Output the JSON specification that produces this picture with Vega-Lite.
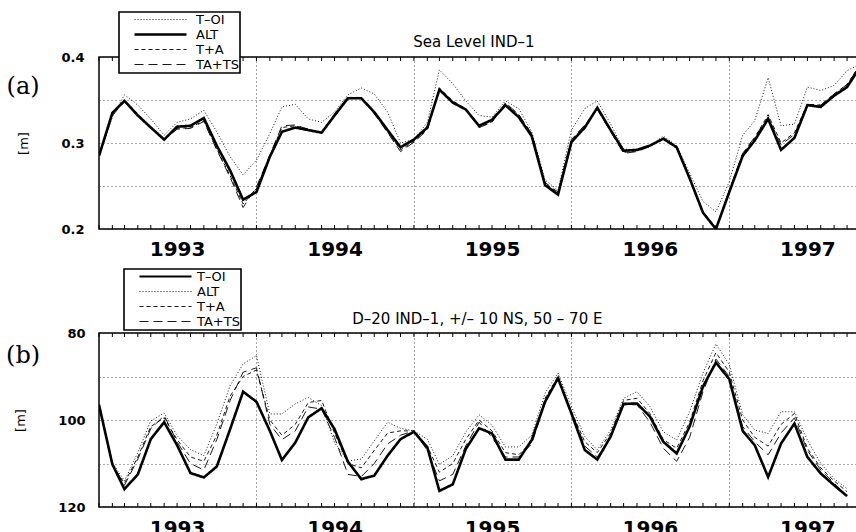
{
"$schema": "https://vega.github.io/schema/vega-lite/v6.json",
"padding": {"left": 5, "top": 10, "right": 0, "bottom": 0},
"background": "white",
"spacing": 7,
"config": {
  "font": "DejaVu Sans",
  "view": {"stroke": "black", "strokeWidth": 1.5},
  "axis": {"domain": false, "ticks": false, "grid": false, "labelColor": "black", "titleColor": "black"}
},
"datasets": {
"a": [
{"d":"1993-01-01","toi":0.285,"alt":0.285,"ta":0.285,"tats":0.285},
{"d":"1993-02-01","toi":0.330,"alt":0.335,"ta":0.333,"tats":0.332},
{"d":"1993-03-01","toi":0.356,"alt":0.349,"ta":0.350,"tats":0.348},
{"d":"1993-04-01","toi":0.344,"alt":0.332,"ta":0.334,"tats":0.333},
{"d":"1993-05-01","toi":0.328,"alt":0.318,"ta":0.319,"tats":0.318},
{"d":"1993-06-01","toi":0.309,"alt":0.304,"ta":0.305,"tats":0.304},
{"d":"1993-07-01","toi":0.324,"alt":0.319,"ta":0.317,"tats":0.316},
{"d":"1993-08-01","toi":0.328,"alt":0.320,"ta":0.318,"tats":0.317},
{"d":"1993-09-01","toi":0.338,"alt":0.329,"ta":0.326,"tats":0.325},
{"d":"1993-10-01","toi":0.313,"alt":0.297,"ta":0.293,"tats":0.292},
{"d":"1993-11-01","toi":0.284,"alt":0.268,"ta":0.262,"tats":0.260},
{"d":"1993-12-01","toi":0.263,"alt":0.234,"ta":0.229,"tats":0.225},
{"d":"1994-01-01","toi":0.280,"alt":0.243,"ta":0.247,"tats":0.249},
{"d":"1994-02-01","toi":0.311,"alt":0.284,"ta":0.285,"tats":0.286},
{"d":"1994-03-01","toi":0.342,"alt":0.313,"ta":0.318,"tats":0.320},
{"d":"1994-04-01","toi":0.345,"alt":0.318,"ta":0.320,"tats":0.321},
{"d":"1994-05-01","toi":0.328,"alt":0.315,"ta":0.316,"tats":0.316},
{"d":"1994-06-01","toi":0.324,"alt":0.312,"ta":0.312,"tats":0.312},
{"d":"1994-07-01","toi":0.336,"alt":0.332,"ta":0.333,"tats":0.334},
{"d":"1994-08-01","toi":0.356,"alt":0.352,"ta":0.353,"tats":0.353},
{"d":"1994-09-01","toi":0.364,"alt":0.352,"ta":0.353,"tats":0.352},
{"d":"1994-10-01","toi":0.357,"alt":0.336,"ta":0.335,"tats":0.334},
{"d":"1994-11-01","toi":0.336,"alt":0.315,"ta":0.313,"tats":0.312},
{"d":"1994-12-01","toi":0.300,"alt":0.295,"ta":0.292,"tats":0.290},
{"d":"1995-01-01","toi":0.304,"alt":0.304,"ta":0.302,"tats":0.301},
{"d":"1995-02-01","toi":0.324,"alt":0.318,"ta":0.316,"tats":0.315},
{"d":"1995-03-01","toi":0.385,"alt":0.362,"ta":0.364,"tats":0.363},
{"d":"1995-04-01","toi":0.369,"alt":0.347,"ta":0.349,"tats":0.348},
{"d":"1995-05-01","toi":0.349,"alt":0.339,"ta":0.340,"tats":0.339},
{"d":"1995-06-01","toi":0.332,"alt":0.320,"ta":0.318,"tats":0.318},
{"d":"1995-07-01","toi":0.330,"alt":0.327,"ta":0.325,"tats":0.324},
{"d":"1995-08-01","toi":0.349,"alt":0.344,"ta":0.346,"tats":0.347},
{"d":"1995-09-01","toi":0.340,"alt":0.330,"ta":0.333,"tats":0.333},
{"d":"1995-10-01","toi":0.313,"alt":0.308,"ta":0.310,"tats":0.311},
{"d":"1995-11-01","toi":0.257,"alt":0.251,"ta":0.253,"tats":0.254},
{"d":"1995-12-01","toi":0.245,"alt":0.240,"ta":0.242,"tats":0.243},
{"d":"1996-01-01","toi":0.315,"alt":0.301,"ta":0.303,"tats":0.304},
{"d":"1996-02-01","toi":0.340,"alt":0.318,"ta":0.320,"tats":0.321},
{"d":"1996-03-01","toi":0.349,"alt":0.341,"ta":0.340,"tats":0.339},
{"d":"1996-04-01","toi":0.322,"alt":0.315,"ta":0.314,"tats":0.313},
{"d":"1996-05-01","toi":0.293,"alt":0.291,"ta":0.289,"tats":0.288},
{"d":"1996-06-01","toi":0.292,"alt":0.292,"ta":0.291,"tats":0.290},
{"d":"1996-07-01","toi":0.297,"alt":0.297,"ta":0.296,"tats":0.296},
{"d":"1996-08-01","toi":0.308,"alt":0.305,"ta":0.306,"tats":0.306},
{"d":"1996-09-01","toi":0.297,"alt":0.295,"ta":0.296,"tats":0.296},
{"d":"1996-10-01","toi":0.265,"alt":0.259,"ta":0.260,"tats":0.260},
{"d":"1996-11-01","toi":0.232,"alt":0.219,"ta":0.220,"tats":0.220},
{"d":"1996-12-01","toi":0.220,"alt":0.200,"ta":0.201,"tats":0.200},
{"d":"1997-01-01","toi":0.255,"alt":0.243,"ta":0.245,"tats":0.245},
{"d":"1997-02-01","toi":0.309,"alt":0.285,"ta":0.287,"tats":0.288},
{"d":"1997-03-01","toi":0.326,"alt":0.303,"ta":0.306,"tats":0.307},
{"d":"1997-04-01","toi":0.376,"alt":0.328,"ta":0.333,"tats":0.330},
{"d":"1997-05-01","toi":0.320,"alt":0.292,"ta":0.300,"tats":0.298},
{"d":"1997-06-01","toi":0.322,"alt":0.306,"ta":0.312,"tats":0.310},
{"d":"1997-07-01","toi":0.365,"alt":0.344,"ta":0.345,"tats":0.345},
{"d":"1997-08-01","toi":0.361,"alt":0.342,"ta":0.344,"tats":0.344},
{"d":"1997-09-01","toi":0.367,"alt":0.355,"ta":0.357,"tats":0.357},
{"d":"1997-10-01","toi":0.384,"alt":0.365,"ta":0.368,"tats":0.368},
{"d":"1997-11-01","toi":0.392,"alt":0.389,"ta":0.392,"tats":0.391}
],
"b": [
{"d":"1993-01-01","toi":96.5,"alt":96.5,"ta":96.5,"tats":96.5},
{"d":"1993-02-01","toi":110.2,"alt":109.8,"ta":110.5,"tats":110.0},
{"d":"1993-03-01","toi":115.9,"alt":114.0,"ta":114.5,"tats":115.0},
{"d":"1993-04-01","toi":112.5,"alt":107.5,"ta":108.5,"tats":109.0},
{"d":"1993-05-01","toi":104.4,"alt":100.2,"ta":101.5,"tats":102.0},
{"d":"1993-06-01","toi":100.5,"alt":98.4,"ta":99.5,"tats":99.0},
{"d":"1993-07-01","toi":105.8,"alt":103.6,"ta":104.5,"tats":105.0},
{"d":"1993-08-01","toi":112.2,"alt":106.8,"ta":108.5,"tats":110.0},
{"d":"1993-09-01","toi":113.2,"alt":108.2,"ta":109.5,"tats":111.5},
{"d":"1993-10-01","toi":110.7,"alt":100.9,"ta":103.5,"tats":104.5},
{"d":"1993-11-01","toi":102.1,"alt":92.1,"ta":94.5,"tats":95.5},
{"d":"1993-12-01","toi":93.5,"alt":87.1,"ta":90.0,"tats":89.0},
{"d":"1994-01-01","toi":95.8,"alt":85.2,"ta":88.5,"tats":88.0},
{"d":"1994-02-01","toi":102.5,"alt":98.6,"ta":100.0,"tats":101.0},
{"d":"1994-03-01","toi":109.2,"alt":98.6,"ta":103.5,"tats":104.5},
{"d":"1994-04-01","toi":105.2,"alt":96.3,"ta":101.0,"tats":102.5},
{"d":"1994-05-01","toi":99.4,"alt":94.8,"ta":96.0,"tats":97.0},
{"d":"1994-06-01","toi":97.3,"alt":96.7,"ta":95.5,"tats":97.5},
{"d":"1994-07-01","toi":102.1,"alt":105.2,"ta":103.0,"tats":104.0},
{"d":"1994-08-01","toi":109.6,"alt":109.4,"ta":110.0,"tats":112.5},
{"d":"1994-09-01","toi":113.6,"alt":109.0,"ta":111.0,"tats":113.0},
{"d":"1994-10-01","toi":112.8,"alt":104.8,"ta":107.0,"tats":110.0},
{"d":"1994-11-01","toi":108.2,"alt":100.5,"ta":103.0,"tats":105.5},
{"d":"1994-12-01","toi":104.4,"alt":101.9,"ta":102.5,"tats":103.5},
{"d":"1995-01-01","toi":102.7,"alt":102.5,"ta":102.5,"tats":102.5},
{"d":"1995-02-01","toi":106.3,"alt":104.4,"ta":106.0,"tats":107.0},
{"d":"1995-03-01","toi":116.3,"alt":110.2,"ta":112.0,"tats":114.0},
{"d":"1995-04-01","toi":114.8,"alt":108.2,"ta":110.0,"tats":112.5},
{"d":"1995-05-01","toi":106.7,"alt":102.8,"ta":104.5,"tats":106.0},
{"d":"1995-06-01","toi":101.9,"alt":98.8,"ta":100.0,"tats":100.5},
{"d":"1995-07-01","toi":103.1,"alt":101.2,"ta":102.5,"tats":104.0},
{"d":"1995-08-01","toi":109.1,"alt":106.2,"ta":107.5,"tats":108.5},
{"d":"1995-09-01","toi":109.1,"alt":106.2,"ta":108.0,"tats":108.5},
{"d":"1995-10-01","toi":104.6,"alt":103.5,"ta":105.0,"tats":105.5},
{"d":"1995-11-01","toi":95.8,"alt":93.8,"ta":95.0,"tats":96.0},
{"d":"1995-12-01","toi":90.4,"alt":89.2,"ta":90.0,"tats":90.5},
{"d":"1996-01-01","toi":98.5,"alt":96.9,"ta":98.0,"tats":98.0},
{"d":"1996-02-01","toi":106.9,"alt":103.8,"ta":105.0,"tats":106.0},
{"d":"1996-03-01","toi":109.1,"alt":106.9,"ta":107.5,"tats":108.5},
{"d":"1996-04-01","toi":103.8,"alt":102.3,"ta":103.0,"tats":104.0},
{"d":"1996-05-01","toi":96.3,"alt":95.0,"ta":95.5,"tats":96.5},
{"d":"1996-06-01","toi":96.2,"alt":93.5,"ta":95.0,"tats":96.5},
{"d":"1996-07-01","toi":99.2,"alt":96.9,"ta":98.5,"tats":100.5},
{"d":"1996-08-01","toi":105.0,"alt":102.7,"ta":104.5,"tats":106.5},
{"d":"1996-09-01","toi":107.7,"alt":104.6,"ta":106.5,"tats":109.5},
{"d":"1996-10-01","toi":101.5,"alt":98.1,"ta":100.5,"tats":104.0},
{"d":"1996-11-01","toi":92.3,"alt":89.2,"ta":91.0,"tats":93.5},
{"d":"1996-12-01","toi":86.8,"alt":82.5,"ta":84.5,"tats":86.0},
{"d":"1997-01-01","toi":90.6,"alt":87.3,"ta":89.0,"tats":90.0},
{"d":"1997-02-01","toi":102.5,"alt":98.8,"ta":100.0,"tats":101.5},
{"d":"1997-03-01","toi":105.8,"alt":102.3,"ta":104.0,"tats":105.0},
{"d":"1997-04-01","toi":113.1,"alt":103.1,"ta":106.0,"tats":108.0},
{"d":"1997-05-01","toi":105.4,"alt":98.1,"ta":101.0,"tats":103.0},
{"d":"1997-06-01","toi":100.8,"alt":98.1,"ta":98.5,"tats":99.5},
{"d":"1997-07-01","toi":108.5,"alt":104.6,"ta":106.5,"tats":107.0},
{"d":"1997-08-01","toi":112.3,"alt":110.0,"ta":111.0,"tats":111.5},
{"d":"1997-09-01","toi":115.0,"alt":113.5,"ta":114.0,"tats":114.5},
{"d":"1997-10-01","toi":117.5,"alt":115.8,"ta":116.5,"tats":117.5}
]
},
"resolve": {"scale": {"strokeDash": "independent"}, "legend": {"strokeDash": "independent"}},
"vconcat": [
{
  "width": 758, "height": 172,
  "layer": [
    {
      "data": {"name": "a"},
      "transform": [{"fold": ["toi", "alt", "ta", "tats"], "as": ["series", "value"]}],
      "mark": {"type": "line", "color": "black", "clip": true},
      "encoding": {
        "x": {"field": "d", "type": "temporal",
              "scale": {"type": "utc", "domain": [{"year":1993,"month":1,"date":1,"utc":true},{"year":1997,"month":10,"date":24,"utc":true}]},
              "axis": {"orient": "bottom", "title": null,
                "values": [{"year":1993,"month":7,"date":1,"utc":true},{"year":1994,"month":1,"date":1,"utc":true},{"year":1994,"month":7,"date":1,"utc":true},{"year":1995,"month":1,"date":1,"utc":true},{"year":1995,"month":7,"date":1,"utc":true},{"year":1996,"month":1,"date":1,"utc":true},{"year":1996,"month":7,"date":1,"utc":true},{"year":1997,"month":1,"date":1,"utc":true},{"year":1997,"month":7,"date":1,"utc":true}],
                "labelExpr": "utcmonth(datum.value) == 6 ? utcFormat(datum.value, '%Y') : ''",
                "grid": true, "gridOpacity": {"condition": {"test": "utcmonth(datum.value) == 0", "value": 1}, "value": 0},
                "gridDash": [1, 3], "gridColor": "#222", "gridWidth": 0.8,
                "ticks": false, "tickSize": 0, "labelFontSize": 20, "labelFontWeight": "bold", "labelPadding": 10,
                "labelFlush": false, "labelOverlap": false}},
        "y": {"field": "value", "type": "quantitative", "scale": {"domain": [0.2, 0.4]},
              "axis": {"values": [0.2, 0.25, 0.3, 0.35, 0.4], "grid": true, "gridDash": [1, 3], "gridColor": "#222", "gridWidth": 0.8,
                "labelExpr": "abs(datum.value*10 - round(datum.value*10)) < 0.001 ? format(datum.value, '.1f') : ''",
                "labelFontWeight": "bold", "labelFontSize": 13, "labelPadding": 15,
                "title": "[m]", "titleFontWeight": "normal", "titleFontSize": 13, "titlePadding": 30}},
        "strokeDash": {"field": "series", "type": "nominal",
              "scale": {"domain": ["toi", "alt", "ta", "tats"], "range": [[1, 2], [1, 0], [4, 3], [9, 5]]},
              "legend": {"orient": "none", "legendX": 20, "legendY": -45, "title": null,
                "symbolType": "stroke", "symbolSize": 2704, "symbolStrokeColor": "black",
                "labelExpr": "datum.value === 'toi' ? 'T–OI' : datum.value === 'alt' ? 'ALT' : datum.value === 'ta' ? 'T+A' : 'TA+TS'",
                "labelFontSize": 13, "labelColor": "black", "strokeColor": "black", "fillColor": "white",
                "padding": 1, "rowPadding": 1, "symbolOffset": 34, "labelOffset": 29,
                "encode": {"symbols": {"update": {"strokeWidth": {"signal": "datum.value === 'alt' ? 2.6 : 0.9"}}},
                           "legend": {"update": {"strokeWidth": {"value": 1.6}}}}}},
        "strokeWidth": {"condition": {"test": "datum.series === 'alt'", "value": 2.6}, "value": 0.9}
      }
    },
    {
      "data": {"name": "a"},
      "mark": {"type": "rule", "color": "black", "strokeWidth": 1},
      "encoding": {
        "x": {"field": "d", "type": "temporal"},
        "y": {"datum": 0.2, "type": "quantitative"},
        "y2": {"datum": 0.2046}
      }
    },
    {
      "data": {"name": "a"},
      "mark": {"type": "rule", "color": "black", "strokeWidth": 1},
      "encoding": {
        "x": {"field": "d", "type": "temporal"},
        "y": {"datum": 0.3954, "type": "quantitative"},
        "y2": {"datum": 0.4}
      }
    },
    {
      "data": {"values": [{"t": "Sea Level IND–1"}]},
      "mark": {"type": "text", "fontSize": 15, "align": "center", "baseline": "alphabetic", "clip": false, "color": "black"},
      "encoding": {
        "text": {"field": "t"},
        "x": {"datum": {"year":1995,"month":5,"date":20,"utc":true}, "type": "temporal"},
        "y": {"datum": 0.4116, "type": "quantitative"}
      }
    },
    {
      "data": {"values": [{"t": "(a)"}]},
      "mark": {"type": "text", "font": "DejaVu Serif", "fontSize": 24, "align": "center", "baseline": "middle", "clip": false, "color": "black"},
      "encoding": {
        "text": {"field": "t"},
        "x": {"datum": {"year":1992,"month":7,"date":9,"utc":true}, "type": "temporal"},
        "y": {"datum": 0.365, "type": "quantitative"}
      }
    }
  ]
},
{
  "width": 758, "height": 174,
  "layer": [
    {
      "data": {"name": "b"},
      "transform": [{"fold": ["toi", "alt", "ta", "tats"], "as": ["series", "value"]}],
      "mark": {"type": "line", "color": "black", "clip": true},
      "encoding": {
        "x": {"field": "d", "type": "temporal",
              "scale": {"type": "utc", "domain": [{"year":1993,"month":1,"date":1,"utc":true},{"year":1997,"month":10,"date":24,"utc":true}]},
              "axis": {"orient": "bottom", "title": null,
                "values": [{"year":1993,"month":7,"date":1,"utc":true},{"year":1994,"month":1,"date":1,"utc":true},{"year":1994,"month":7,"date":1,"utc":true},{"year":1995,"month":1,"date":1,"utc":true},{"year":1995,"month":7,"date":1,"utc":true},{"year":1996,"month":1,"date":1,"utc":true},{"year":1996,"month":7,"date":1,"utc":true},{"year":1997,"month":1,"date":1,"utc":true},{"year":1997,"month":7,"date":1,"utc":true}],
                "labelExpr": "utcmonth(datum.value) == 6 ? utcFormat(datum.value, '%Y') : ''",
                "grid": true, "gridOpacity": {"condition": {"test": "utcmonth(datum.value) == 0", "value": 1}, "value": 0},
                "gridDash": [1, 3], "gridColor": "#222", "gridWidth": 0.8,
                "ticks": false, "tickSize": 0, "labelFontSize": 20, "labelFontWeight": "bold", "labelPadding": 11,
                "labelFlush": false, "labelOverlap": false}},
        "y": {"field": "value", "type": "quantitative", "scale": {"domain": [80, 120], "reverse": true},
              "axis": {"values": [80, 90, 100, 110, 120], "grid": true, "gridDash": [1, 3], "gridColor": "#222", "gridWidth": 0.8,
                "labelExpr": "datum.value % 20 == 0 ? datum.label : ''",
                "labelFontWeight": "bold", "labelFontSize": 13, "labelPadding": 14,
                "title": "[m]", "titleFontWeight": "normal", "titleFontSize": 13, "titlePadding": 30}},
        "strokeDash": {"field": "series", "type": "nominal",
              "scale": {"domain": ["toi", "alt", "ta", "tats"], "range": [[1, 0], [1, 2], [4, 3], [9, 5]]},
              "legend": {"orient": "none", "legendX": 25, "legendY": -64, "title": null,
                "symbolType": "stroke", "symbolSize": 2704, "symbolStrokeColor": "black",
                "labelExpr": "datum.value === 'toi' ? 'T–OI' : datum.value === 'alt' ? 'ALT' : datum.value === 'ta' ? 'T+A' : 'TA+TS'",
                "labelFontSize": 13, "labelColor": "black", "strokeColor": "black", "fillColor": "white",
                "padding": 1, "rowPadding": 1, "symbolOffset": 34, "labelOffset": 25,
                "encode": {"symbols": {"update": {"strokeWidth": {"signal": "datum.value === 'toi' ? 2.0 : 0.9"}}},
                           "legend": {"update": {"strokeWidth": {"value": 1.6}}}}}},
        "strokeWidth": {"condition": {"test": "datum.series === 'toi'", "value": 2.6}, "value": 0.9}
      }
    },
    {
      "data": {"name": "b"},
      "mark": {"type": "rule", "color": "black", "strokeWidth": 1},
      "encoding": {
        "x": {"field": "d", "type": "temporal"},
        "y": {"datum": 120, "type": "quantitative"},
        "y2": {"datum": 119.08}
      }
    },
    {
      "data": {"name": "b"},
      "mark": {"type": "rule", "color": "black", "strokeWidth": 1},
      "encoding": {
        "x": {"field": "d", "type": "temporal"},
        "y": {"datum": 80.92, "type": "quantitative"},
        "y2": {"datum": 80}
      }
    },
    {
      "data": {"values": [{"t": "D–20 IND–1, +/– 10 NS, 50 – 70 E"}]},
      "mark": {"type": "text", "fontSize": 15, "align": "center", "baseline": "alphabetic", "clip": false, "color": "black"},
      "encoding": {
        "text": {"field": "t"},
        "x": {"datum": {"year":1995,"month":5,"date":28,"utc":true}, "type": "temporal"},
        "y": {"datum": 77.93, "type": "quantitative"}
      }
    },
    {
      "data": {"values": [{"t": "(b)"}]},
      "mark": {"type": "text", "font": "DejaVu Serif", "fontSize": 24, "align": "center", "baseline": "middle", "clip": false, "color": "black"},
      "encoding": {
        "text": {"field": "t"},
        "x": {"datum": {"year":1992,"month":7,"date":9,"utc":true}, "type": "temporal"},
        "y": {"datum": 85.3, "type": "quantitative"}
      }
    }
  ]
}
]
}
